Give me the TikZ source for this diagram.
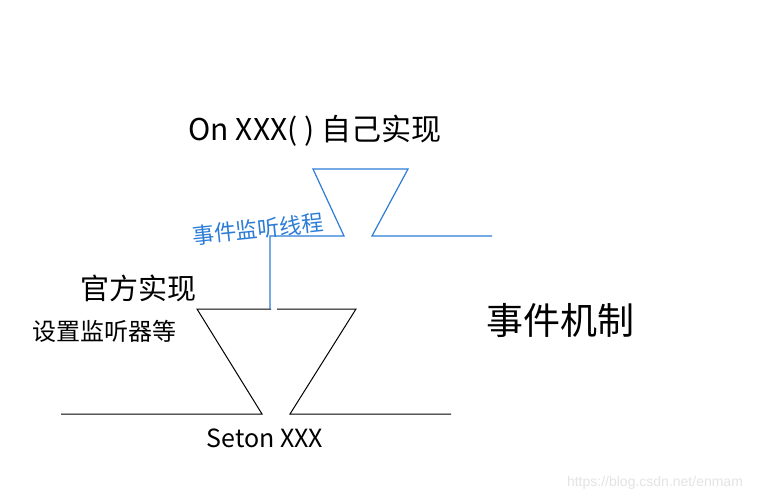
\documentclass[tikz,border=0pt]{standalone}
\usepackage{fontspec}
\setmainfont{Liberation Sans}
\newfontfamily\cjk{Noto Sans CJK SC}
\definecolor{penblue}{RGB}{45,125,215}
\definecolor{wm}{RGB}{228,228,228}
\begin{document}
\begin{tikzpicture}[x=1pt,y=-1pt,
  blackline/.style={draw=black,line width=1pt},
  blueline/.style={draw=penblue,line width=1.2pt},
  hand/.style={font=\cjk, inner sep=0pt, anchor=center}]
\useasboundingbox (0,0) rectangle (765,500);
\fill[white] (0,0) rectangle (765,500);
% black lower shape
\draw[blackline] (61,414) -- (262,414) -- (197,309) -- (271,309);
\draw[blackline] (277,309) -- (356,309) -- (290,414) -- (451,414);
% blue upper shape
\draw[blueline] (270,309) -- (270,236) -- (344,236) -- (313,169) -- (408,169) -- (372,236) -- (492,236);
% texts
\node[hand,font=\cjk\fontsize{30}{32}\selectfont] (t1) at (315,131) {On XXX( ) 自己实现};
\node[hand,text=penblue,rotate=6,font=\cjk\fontsize{22}{24}\selectfont] (t2) at (258,229) {事件监听线程};
\node[hand,font=\cjk\fontsize{29}{31}\selectfont] (t3) at (138,288) {官方实现};
\node[hand,font=\cjk\fontsize{24}{26}\selectfont] (t4) at (104,331) {设置监听器等};
\node[hand,font=\cjk\fontsize{25}{27}\selectfont] (t5) at (265,438) {Seton XXX};
\node[hand,font=\cjk\fontsize{37}{40}\selectfont] (t6) at (560,320) {事件机制};
\node[hand,text=wm,font=\fontsize{14}{16}\selectfont] (wm) at (655,483) {https://blog.csdn.net/enmam};
\end{tikzpicture}
\end{document}
